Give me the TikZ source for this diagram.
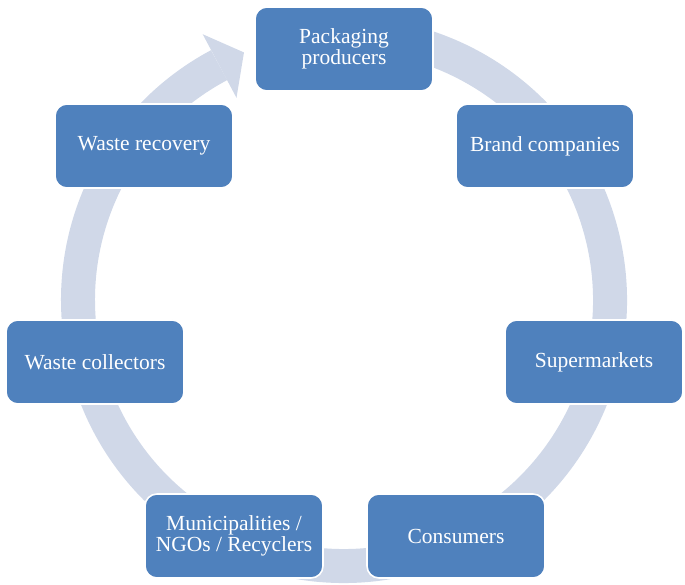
\documentclass[tikz,border=0pt]{standalone}
\usepackage{fontspec}
\setmainfont{Liberation Serif}
\usepackage{tikz}
\usetikzlibrary{calc}
\definecolor{stageblue}{RGB}{79,129,189}
\definecolor{ringgrey}{RGB}{208,216,232}
\tikzset{
  stage/.style={draw=white, line width=1.6pt, fill=stageblue,
                minimum width=178pt, minimum height=84pt,
                rounded corners=12pt, inner sep=4pt, align=center,
                text=white, font=\fontsize{21.5}{21.5}\selectfont},
  ring/.style={draw=ringgrey, line width=34pt},
  ringhead/.style={fill=ringgrey},
}
\begin{document}
\begin{tikzpicture}[x=1pt,y=1pt]
  \path[use as bounding box] (0,0) rectangle (685,584);

  % the continuous cycle behind the stages
  \coordinate (C) at (344,284);
  \draw[ring] ($(C)+(100:266)$) arc[start angle=100, end angle=-242, radius=266];
  \fill[ringhead] ($(C)+(-242:229)$) -- ($(C)+(-242:301)$) -- ($(C)+(-248:267)$) -- cycle;

  % stages, clockwise from the top
  \node[stage] (pack)  at (344,535) {Packaging\\producers};
  \node[stage] (brand) at (545,438) {Brand companies};
  \node[stage] (super) at (594,222) {Supermarkets};
  \node[stage] (cons)  at (456,48)  {Consumers};
  \node[stage] (muni)  at (234,48)  {Municipalities /\\NGOs / Recyclers};
  \node[stage] (coll)  at (95,222)  {Waste collectors};
  \node[stage] (recov) at (144,438) {Waste recovery};
\end{tikzpicture}
\end{document}
